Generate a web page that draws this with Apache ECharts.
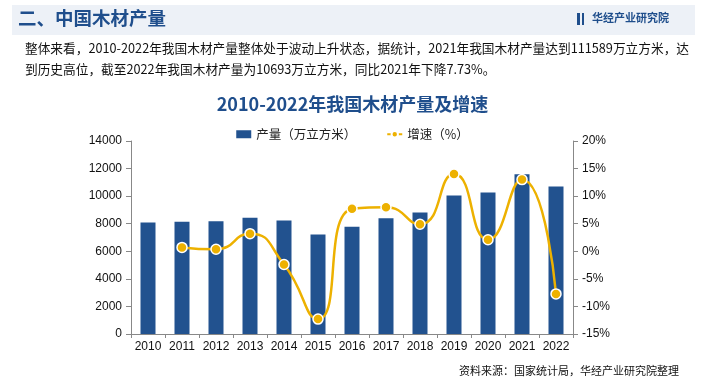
<!DOCTYPE html>
<html><head><meta charset="utf-8">
<script src="https://cdn.jsdelivr.net/npm/echarts@6/dist/echarts.min.js"></script>
<style>html,body{margin:0;padding:0;background:#fff}#c{width:705px;height:389px}</style>
</head><body><div id="c"></div>
<script>
const years = ['2010','2011','2012','2013','2014','2015','2016','2017','2018','2019','2020','2021','2022'];
const production = [8090, 8146, 8175, 8439, 8233, 7218, 7776, 8398, 8811, 10046, 10257, 11589, 10693];
const growth = [null, 0.7, 0.36, 3.2, -2.4, -12.3, 7.7, 8.0, 4.9, 14.0, 2.1, 13.0, -7.73];
const leftTicks = [0, 14000, 2000];
const rightTicks = [-15, 20, 5];
const seriesNames = ['产量（万立方米）', '增速（%）'];
const headerText = '二、中国木材产量';
const logoText = '华经产业研究院';
const para1 = '整体来看，2010-2022年我国木材产量整体处于波动上升状态，据统计，2021年我国木材产量达到111589万立方米，达';
const para2 = '到历史高位，截至2022年我国木材产量为10693万立方米，同比2021年下降7.73%。';
const chartTitle = '2010-2022年我国木材产量及增速';
const sourceText = '资料来源：国家统计局，华经产业研究院整理';

const CJK = '"Noto Sans CJK SC", "Noto Sans", sans-serif';
const NUM = '"Liberation Sans", Arial, sans-serif';
const blue = '#22528F';
const gold = '#EDB100';

const chart = echarts.init(document.getElementById('c'));
chart.setOption({
  animation: false,
  backgroundColor: '#fff',
  title: {
    text: chartTitle, left: 'center', top: 90,
    textStyle: {fontFamily: CJK, fontSize: 18, fontWeight: 'bold', color: '#1F4E8C'}
  },
  legend: {
    top: 123, left: 'center', itemGap: 30, itemWidth: 15, itemHeight: 8,
    textStyle: {fontFamily: CJK, fontSize: 12.5, color: '#222'},
    data: [{name: seriesNames[0], icon: 'rect'}, {name: seriesNames[1]}]
  },
  grid: {left: 131, right: 132, top: 141, bottom: 55},
  xAxis: {
    type: 'category', data: years,
    axisLine: {lineStyle: {color: '#888'}},
    axisTick: {show: true, length: 4, lineStyle: {color: '#888'}},
    axisLabel: {fontFamily: NUM, fontSize: 12, color: '#111', margin: 7, interval: 0}
  },
  yAxis: [{
    type: 'value', min: leftTicks[0], max: leftTicks[1], interval: leftTicks[2],
    axisLine: {show: true, lineStyle: {color: '#888'}},
    axisTick: {show: true, length: 5, lineStyle: {color: '#888'}},
    splitLine: {show: false},
    axisLabel: {fontFamily: NUM, fontSize: 12, color: '#111', margin: 9, formatter: v => String(v)}
  }, {
    type: 'value', min: rightTicks[0], max: rightTicks[1], interval: rightTicks[2],
    axisLine: {show: true, lineStyle: {color: '#888'}},
    axisTick: {show: true, length: 5, lineStyle: {color: '#888'}},
    splitLine: {show: false},
    axisLabel: {fontFamily: NUM, fontSize: 12, color: '#111', margin: 9, formatter: '{value}%'}
  }],
  series: [{
    name: seriesNames[0], type: 'bar', data: production, barWidth: 15,
    itemStyle: {color: blue}
  }, {
    name: seriesNames[1], type: 'line', yAxisIndex: 1, data: growth, smooth: 0.55,
    symbol: 'circle', symbolSize: 10,
    lineStyle: {color: gold, width: 2.5},
    itemStyle: {color: gold, borderColor: '#fff', borderWidth: 1.5}
  }],
  graphic: [
    {type: 'rect', left: 12, top: 5, shape: {width: 683, height: 30}, style: {fill: '#EDF1F7'}},
    {type: 'text', left: 18, top: 9, style: {text: headerText, fontFamily: CJK, fontSize: 18.5, fontWeight: 'bold', fill: '#1F4E8C'}},
    {type: 'rect', left: 577, top: 13, shape: {width: 3, height: 12}, style: {fill: '#1F4E8C'}},
    {type: 'rect', left: 582, top: 13, shape: {width: 2, height: 12}, style: {fill: '#1F4E8C'}},
    {type: 'text', left: 592, top: 12, style: {text: logoText, fontFamily: CJK, fontSize: 11, fontWeight: 'bold', fill: '#1F4E8C', letterSpacing: 3.5}},
    {type: 'text', left: 25, top: 42, style: {text: para1, fontFamily: CJK, fontSize: 12.7, fill: '#111'}},
    {type: 'text', left: 25, top: 63, style: {text: para2, fontFamily: CJK, fontSize: 12.7, fill: '#111'}},
    {type: 'text', right: 26, top: 365, style: {text: sourceText, fontFamily: CJK, fontSize: 11, fill: '#111'}}
  ]
});
</script></body></html>
